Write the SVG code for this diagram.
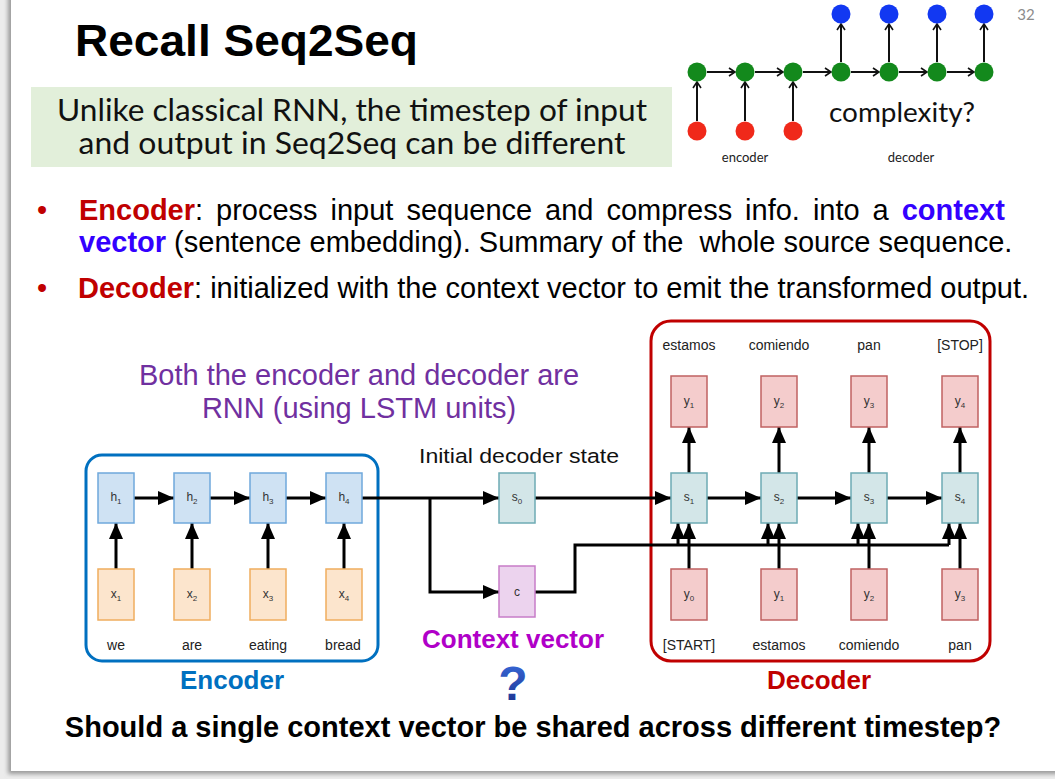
<svg xmlns="http://www.w3.org/2000/svg" width="1055" height="779" viewBox="0 0 1055 779">
  <defs>
    <style>
      .ar { font-family: "Liberation Sans", Arial, sans-serif; }
      .cal { font-family: Lato, "Open Sans", sans-serif; }
      .lbl { font-family: "Liberation Sans", Arial, sans-serif; font-size: 14px; fill: #222; text-anchor: middle; }
      .bl { font-family: "Liberation Sans", Arial, sans-serif; font-size: 12px; fill: #333; text-anchor: middle; }
      .sub { font-size: 8px; }
      .hbox { fill: #cfe2f3; stroke: #6fa8dc; stroke-width: 1.5; }
      .xbox { fill: #fce5cd; stroke: #f0ad5e; stroke-width: 1.5; }
      .sbox { fill: #d3e6e8; stroke: #6eabb4; stroke-width: 1.5; }
      .cbox { fill: #ecd3ee; stroke: #c77cc8; stroke-width: 1.5; }
      .ybox { fill: #f4cccc; stroke: #c06262; stroke-width: 1.5; }
      .wire { fill: none; stroke: #000; stroke-width: 3; }
      .wa { fill: none; stroke: #000; stroke-width: 3; marker-end: url(#tri); }
      .mini { fill: none; stroke: #111; stroke-width: 2; marker-end: url(#chev); }
    </style>
    <marker id="tri" markerUnits="userSpaceOnUse" markerWidth="17" markerHeight="14" refX="16" refY="7" orient="auto">
      <path d="M0,0 L16,7 L0,14 z" fill="#000"/>
    </marker>
    <marker id="chev" markerUnits="userSpaceOnUse" markerWidth="9" markerHeight="10" refX="7" refY="5" orient="auto">
      <path d="M1,1 L7,5 L1,9" fill="none" stroke="#111" stroke-width="1.6"/>
    </marker>
    <linearGradient id="qgrad" x1="0" y1="0" x2="0" y2="1">
      <stop offset="0" stop-color="#3a6ee0"/>
      <stop offset="1" stop-color="#1a2c86"/>
    </linearGradient>
    <filter id="shadow" x="-5%" y="-5%" width="110%" height="110%">
      <feGaussianBlur stdDeviation="2"/>
    </filter>
  </defs>

  <!-- page frame -->
  <rect x="0" y="0" width="1055" height="779" fill="#ececec"/>
  <rect x="8" y="-10" width="1060" height="784" fill="#9a9a9a" filter="url(#shadow)"/>
  <rect x="11" y="-10" width="1060" height="781" fill="#ffffff"/>

  <!-- title and intro -->
  <text class="ar" x="75" y="56" font-size="44" font-weight="bold" textLength="343" lengthAdjust="spacingAndGlyphs">Recall Seq2Seq</text>
  <text class="cal" x="1026" y="20" font-size="15" fill="#8c8c8c" text-anchor="middle">32</text>

  <g id="note">
    <rect x="31" y="87" width="641" height="80" fill="#e2efda"/>
    <text class="cal" x="352" y="121" font-size="30" fill="#111" text-anchor="middle" textLength="590" lengthAdjust="spacingAndGlyphs">Unlike classical RNN, the timestep of input</text>
    <text class="cal" x="352" y="154" font-size="30" fill="#111" text-anchor="middle" textLength="547" lengthAdjust="spacingAndGlyphs">and output in Seq2Seq can be different</text>
  </g>

  <!-- small unrolled chain -->
  <g id="mini-chain">
    <g id="mini-links">
      <line class="mini" x1="697" y1="121" x2="697" y2="82"/>
      <line class="mini" x1="745" y1="121" x2="745" y2="82"/>
      <line class="mini" x1="793" y1="121" x2="793" y2="82"/>
      <line class="mini" x1="707" y1="72" x2="735" y2="72"/>
      <line class="mini" x1="755" y1="72" x2="783" y2="72"/>
      <line class="mini" x1="803" y1="72" x2="831" y2="72"/>
      <line class="mini" x1="851" y1="72" x2="879" y2="72"/>
      <line class="mini" x1="899" y1="72" x2="927" y2="72"/>
      <line class="mini" x1="947" y1="72" x2="974" y2="72"/>
      <line class="mini" x1="841" y1="62" x2="841" y2="24"/>
      <line class="mini" x1="889" y1="62" x2="889" y2="24"/>
      <line class="mini" x1="937" y1="62" x2="937" y2="24"/>
      <line class="mini" x1="984" y1="62" x2="984" y2="24"/>
    </g>
    <g fill="#13891c">
      <circle cx="697" cy="72" r="9.5"/><circle cx="745" cy="72" r="9.5"/><circle cx="793" cy="72" r="9.5"/>
      <circle cx="841" cy="72" r="9.5"/><circle cx="889" cy="72" r="9.5"/><circle cx="937" cy="72" r="9.5"/>
      <circle cx="984" cy="72" r="9.5"/>
    </g>
    <g fill="#f0291a">
      <circle cx="697" cy="131" r="9.5"/><circle cx="745" cy="131" r="9.5"/><circle cx="793" cy="131" r="9.5"/>
    </g>
    <g fill="#1238f2">
      <circle cx="841" cy="14" r="9.5"/><circle cx="889" cy="14" r="9.5"/><circle cx="937" cy="14" r="9.5"/>
      <circle cx="984" cy="14" r="9.5"/>
    </g>
    <text class="cal" x="829" y="122" font-size="26" fill="#111" textLength="146" lengthAdjust="spacingAndGlyphs">complexity?</text>
    <text class="cal" x="745" y="162" font-size="13" fill="#222" text-anchor="middle">encoder</text>
    <text class="cal" x="911" y="162" font-size="13" fill="#222" text-anchor="middle">decoder</text>
  </g>

  <!-- bullet points -->
  <g id="bullets" class="ar" font-size="29" fill="#000">
    <text x="37" y="220" fill="#c00000">•</text>
    <text x="79" y="220" word-spacing="4.9"><tspan font-weight="bold" fill="#c00000">Encoder</tspan>: process input sequence and compress info. into a <tspan font-weight="bold" fill="#3300ff">context</tspan></text>
    <text x="79" y="252" style="white-space:pre"><tspan font-weight="bold" fill="#3300ff">vector</tspan> (sentence embedding). Summary of the  whole source sequence.</text>
    <text x="37" y="298" fill="#c00000">•</text>
    <text x="78" y="298"><tspan font-weight="bold" fill="#c00000">Decoder</tspan>: initialized with the context vector to emit the transformed output.</text>
  </g>

  <text class="ar" x="359" y="385" font-size="29" fill="#7030a0" text-anchor="middle">Both the encoder and decoder are</text>
  <text class="ar" x="359" y="418" font-size="29" fill="#7030a0" text-anchor="middle">RNN (using LSTM units)</text>

  <!-- group frames -->
  <g id="encoder-frame">
    <rect x="86" y="455" width="292" height="206" rx="16" fill="none" stroke="#0070c0" stroke-width="3"/>
    <text class="ar" x="232" y="689" font-size="26" font-weight="bold" fill="#0070c0" text-anchor="middle">Encoder</text>
  </g>
  <g id="decoder-frame">
    <rect x="651" y="321" width="339" height="340" rx="20" fill="none" stroke="#c00000" stroke-width="3"/>
    <text class="ar" x="819" y="689" font-size="26" font-weight="bold" fill="#c00000" text-anchor="middle">Decoder</text>
  </g>

  <!-- connectors -->
  <g id="connectors">
    <line class="wa" x1="134" y1="498" x2="174" y2="498"/>
    <line class="wa" x1="210" y1="498" x2="250" y2="498"/>
    <line class="wa" x1="285" y1="498" x2="326" y2="498"/>
    <line class="wa" x1="116" y1="569" x2="116" y2="523"/>
    <line class="wa" x1="192" y1="569" x2="192" y2="523"/>
    <line class="wa" x1="268" y1="569" x2="268" y2="523"/>
    <line class="wa" x1="344" y1="569" x2="344" y2="523"/>
    <line class="wa" x1="361" y1="498" x2="499" y2="498"/>
    <polyline class="wa" points="430,498 430,592 499,592"/>
    <line class="wa" x1="535" y1="498" x2="671" y2="498"/>
    <polyline class="wire" points="535,592 575,592 575,545 949,545"/>
    <line class="wa" x1="707" y1="498" x2="761" y2="498"/>
    <line class="wa" x1="797" y1="498" x2="851" y2="498"/>
    <line class="wa" x1="887" y1="498" x2="942" y2="498"/>
    <line class="wa" x1="678" y1="545" x2="678" y2="523"/>
    <line class="wa" x1="768" y1="545" x2="768" y2="523"/>
    <line class="wa" x1="858" y1="545" x2="858" y2="523"/>
    <line class="wa" x1="949" y1="545" x2="949" y2="523"/>
    <line class="wa" x1="689" y1="569" x2="689" y2="523"/>
    <line class="wa" x1="779" y1="569" x2="779" y2="523"/>
    <line class="wa" x1="869" y1="569" x2="869" y2="523"/>
    <line class="wa" x1="960" y1="569" x2="960" y2="523"/>
    <line class="wa" x1="689" y1="473" x2="689" y2="427"/>
    <line class="wa" x1="779" y1="473" x2="779" y2="427"/>
    <line class="wa" x1="869" y1="473" x2="869" y2="427"/>
    <line class="wa" x1="960" y1="473" x2="960" y2="427"/>
  </g>

  <!-- encoder cells -->
  <g id="h1"><rect class="hbox" x="98" y="473" width="36" height="50"/><text class="bl" x="116" y="501">h<tspan class="sub" dy="3">1</tspan></text></g>
  <g id="h2"><rect class="hbox" x="174" y="473" width="36" height="50"/><text class="bl" x="192" y="501">h<tspan class="sub" dy="3">2</tspan></text></g>
  <g id="h3"><rect class="hbox" x="250" y="473" width="36" height="50"/><text class="bl" x="268" y="501">h<tspan class="sub" dy="3">3</tspan></text></g>
  <g id="h4"><rect class="hbox" x="326" y="473" width="36" height="50"/><text class="bl" x="344" y="501">h<tspan class="sub" dy="3">4</tspan></text></g>

  <g id="x1"><rect class="xbox" x="98" y="569" width="36" height="51"/><text class="bl" x="116" y="598">x<tspan class="sub" dy="3">1</tspan></text><text class="lbl" x="116" y="650">we</text></g>
  <g id="x2"><rect class="xbox" x="174" y="569" width="36" height="51"/><text class="bl" x="192" y="598">x<tspan class="sub" dy="3">2</tspan></text><text class="lbl" x="192" y="650">are</text></g>
  <g id="x3"><rect class="xbox" x="250" y="569" width="36" height="51"/><text class="bl" x="268" y="598">x<tspan class="sub" dy="3">3</tspan></text><text class="lbl" x="268" y="650">eating</text></g>
  <g id="x4"><rect class="xbox" x="326" y="569" width="36" height="51"/><text class="bl" x="344" y="598">x<tspan class="sub" dy="3">4</tspan></text><text class="lbl" x="343" y="650">bread</text></g>

  <!-- bridge -->
  <g id="s0">
    <rect class="sbox" x="499" y="473" width="36" height="50"/>
    <text class="bl" x="517" y="501">s<tspan class="sub" dy="3">0</tspan></text>
    <text class="ar" x="519" y="463" font-size="20.5" fill="#111" text-anchor="middle" textLength="200" lengthAdjust="spacingAndGlyphs">Initial decoder state</text>
  </g>
  <g id="c">
    <rect class="cbox" x="499" y="566" width="36" height="51"/>
    <text class="bl" x="517" y="596">c</text>
    <text class="ar" x="513" y="648" font-size="26" font-weight="bold" fill="#b000c8" text-anchor="middle">Context vector</text>
    <text class="ar" x="513" y="700" font-size="48" font-weight="900" fill="url(#qgrad)" text-anchor="middle">?</text>
  </g>

  <!-- decoder cells -->
  <g id="s1"><rect class="sbox" x="671" y="473" width="36" height="50"/><text class="bl" x="689" y="501">s<tspan class="sub" dy="3">1</tspan></text></g>
  <g id="s2"><rect class="sbox" x="761" y="473" width="36" height="50"/><text class="bl" x="779" y="501">s<tspan class="sub" dy="3">2</tspan></text></g>
  <g id="s3"><rect class="sbox" x="851" y="473" width="36" height="50"/><text class="bl" x="869" y="501">s<tspan class="sub" dy="3">3</tspan></text></g>
  <g id="s4"><rect class="sbox" x="942" y="473" width="36" height="50"/><text class="bl" x="960" y="501">s<tspan class="sub" dy="3">4</tspan></text></g>

  <g id="out1"><rect class="ybox" x="671" y="376" width="36" height="51"/><text class="bl" x="689" y="405">y<tspan class="sub" dy="3">1</tspan></text><text class="lbl" x="689" y="350">estamos</text></g>
  <g id="out2"><rect class="ybox" x="761" y="376" width="36" height="51"/><text class="bl" x="779" y="405">y<tspan class="sub" dy="3">2</tspan></text><text class="lbl" x="779" y="350">comiendo</text></g>
  <g id="out3"><rect class="ybox" x="851" y="376" width="36" height="51"/><text class="bl" x="869" y="405">y<tspan class="sub" dy="3">3</tspan></text><text class="lbl" x="869" y="350">pan</text></g>
  <g id="out4"><rect class="ybox" x="942" y="376" width="36" height="51"/><text class="bl" x="960" y="405">y<tspan class="sub" dy="3">4</tspan></text><text class="lbl" x="960" y="350">[STOP]</text></g>

  <g id="in0"><rect class="ybox" x="671" y="569" width="36" height="51"/><text class="bl" x="689" y="598">y<tspan class="sub" dy="3">0</tspan></text><text class="lbl" x="689" y="650">[START]</text></g>
  <g id="in1"><rect class="ybox" x="761" y="569" width="36" height="51"/><text class="bl" x="779" y="598">y<tspan class="sub" dy="3">1</tspan></text><text class="lbl" x="779" y="650">estamos</text></g>
  <g id="in2"><rect class="ybox" x="851" y="569" width="36" height="51"/><text class="bl" x="869" y="598">y<tspan class="sub" dy="3">2</tspan></text><text class="lbl" x="869" y="650">comiendo</text></g>
  <g id="in3"><rect class="ybox" x="942" y="569" width="36" height="51"/><text class="bl" x="960" y="598">y<tspan class="sub" dy="3">3</tspan></text><text class="lbl" x="960" y="650">pan</text></g>

  <text class="ar" x="533" y="737" font-size="29" font-weight="bold" fill="#000" text-anchor="middle">Should a single context vector be shared across different timestep?</text>
</svg>
